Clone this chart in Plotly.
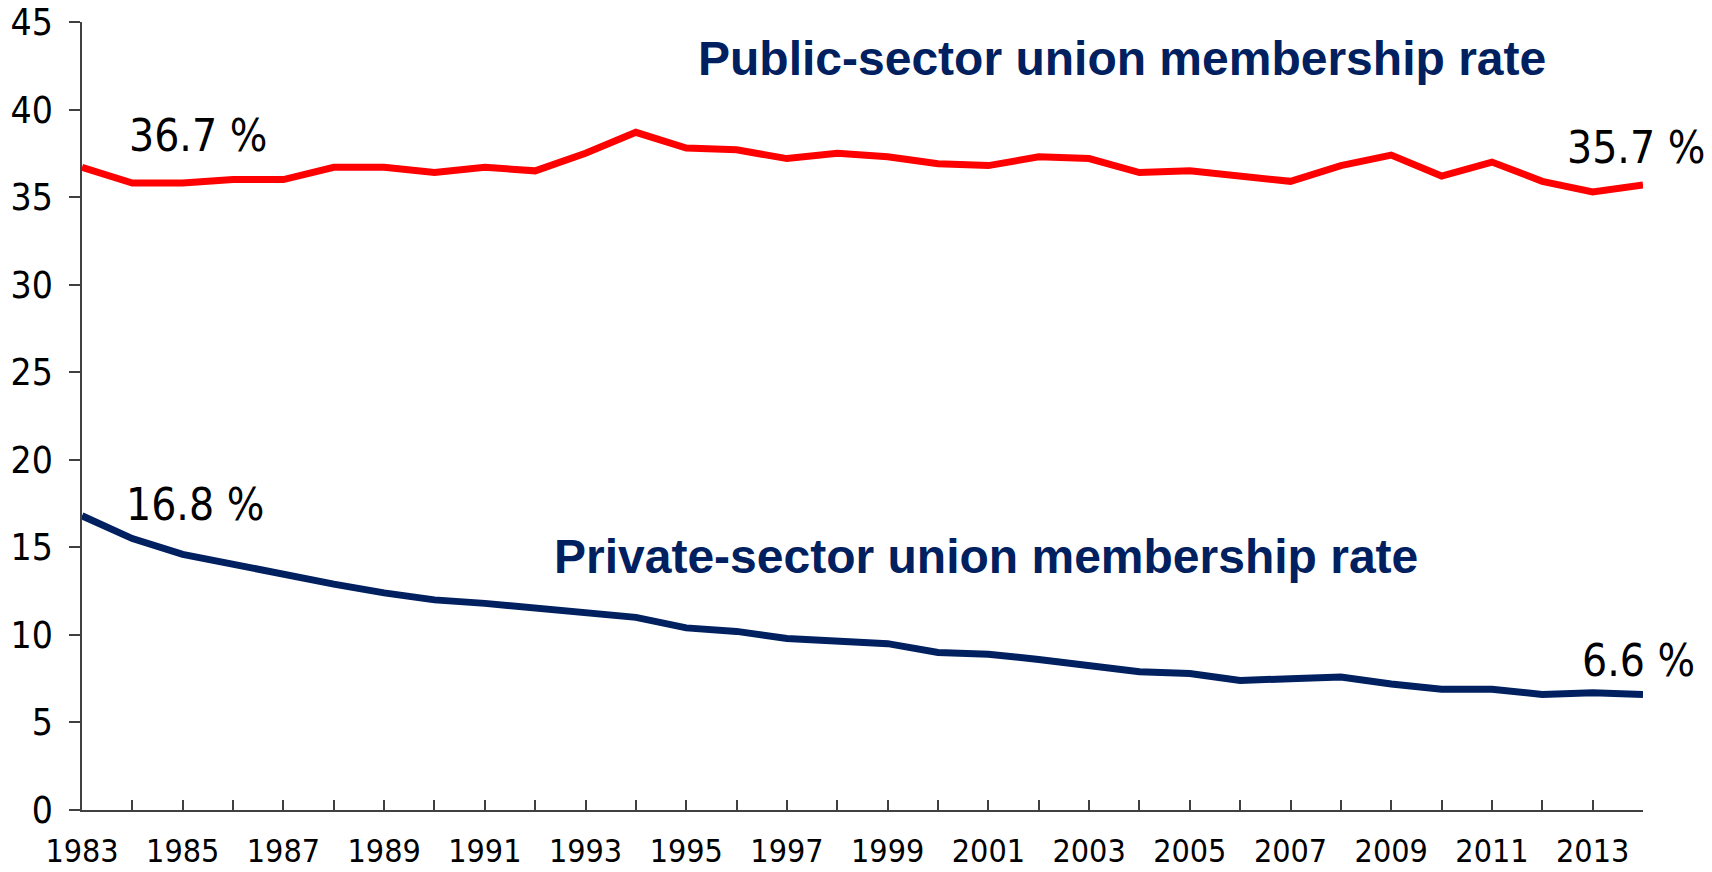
import plotly.graph_objects as go

# Union membership rates (%) by sector, 1983-2014
years = list(range(1983, 2015))
public_rate = [36.7, 35.8, 35.8, 36.0, 36.0, 36.7, 36.7, 36.4, 36.7, 36.5,
               37.5, 38.7, 37.8, 37.7, 37.2, 37.5, 37.3, 36.9, 36.8, 37.3,
               37.2, 36.4, 36.5, 36.2, 35.9, 36.8, 37.4, 36.2, 37.0, 35.9,
               35.3, 35.7]
private_rate = [16.8, 15.5, 14.6, 14.0, 13.4, 12.9, 12.4, 12.0, 11.8, 11.5,
                11.2, 11.0, 10.4, 10.2, 9.8, 9.7, 9.5, 9.0, 8.9, 8.6,
                8.2, 7.9, 7.8, 7.4, 7.5, 7.6, 7.2, 6.9, 6.9, 6.6,
                6.7, 6.6]
tick_years = list(range(1983, 2015, 2))
y_ticks = list(range(0, 50, 5))

RED = "#FF0000"
NAVY = "#002060"
TICK_FONT = "DejaVu Sans Condensed, DejaVu Sans, sans-serif"
TITLE_FONT = "Liberation Sans, Arial, sans-serif"

fig = go.Figure()
fig.add_trace(go.Scatter(x=years, y=public_rate, mode="lines",
                         line=dict(color=RED, width=7), name="Public sector"))
fig.add_trace(go.Scatter(x=years, y=private_rate, mode="lines",
                         line=dict(color=NAVY, width=7), name="Private sector"))

value_font = dict(family=TICK_FONT, size=44, color="black")

# Start / end value labels
fig.add_annotation(x=years[0], y=public_rate[0], text=f"{public_rate[0]} %",
                   xanchor="left", yanchor="middle", xshift=45, yshift=32,
                   showarrow=False, font=value_font)
fig.add_annotation(x=years[0], y=private_rate[0], text=f"{private_rate[0]} %",
                   xanchor="left", yanchor="middle", xshift=42, yshift=11,
                   showarrow=False, font=value_font)
fig.add_annotation(x=years[-1], y=public_rate[-1], text=f"{public_rate[-1]} %",
                   xanchor="right", yanchor="middle", xshift=64, yshift=37,
                   showarrow=False, font=value_font)
fig.add_annotation(x=years[-1], y=private_rate[-1], text=f"{private_rate[-1]} %",
                   xanchor="right", yanchor="middle", xshift=54, yshift=34,
                   showarrow=False, font=value_font)

# Series titles
title_font = dict(family=TITLE_FONT, size=48, color=NAVY)
fig.add_annotation(x=2003.66, y=42.94, text="<b>Public-sector union membership rate</b>",
                   xanchor="center", yanchor="middle", showarrow=False, font=title_font)
fig.add_annotation(x=2000.96, y=14.49, text="<b>Private-sector union membership rate</b>",
                   xanchor="center", yanchor="middle", showarrow=False, font=title_font)

fig.update_layout(
    width=1712, height=872,
    margin=dict(l=82, r=69, t=22, b=62, pad=0),
    plot_bgcolor="white", paper_bgcolor="white",
    showlegend=False,
)
fig.update_xaxes(
    range=[1983, 2014], tickmode="array",
    tickvals=years,
    ticktext=[str(y) if y in tick_years else "" for y in years],
    ticks="inside", ticklen=10, tickwidth=1.5, tickcolor="#404040",
    showline=True, linecolor="#404040", linewidth=1.5,
    showgrid=False, zeroline=False, automargin=False,
    tickfont=dict(family=TICK_FONT, size=32, color="black"),
    ticklabelstandoff=12,
)
fig.update_yaxes(
    range=[0, 45], tickmode="array", tickvals=y_ticks,
    ticks="outside", ticklen=11, tickwidth=1.5, tickcolor="#404040",
    showline=True, linecolor="#404040", linewidth=1.5,
    showgrid=False, zeroline=False, automargin=False,
    tickfont=dict(family=TICK_FONT, size=37, color="black"),
    ticklabelstandoff=9,
)

fig.write_html("out.html")
